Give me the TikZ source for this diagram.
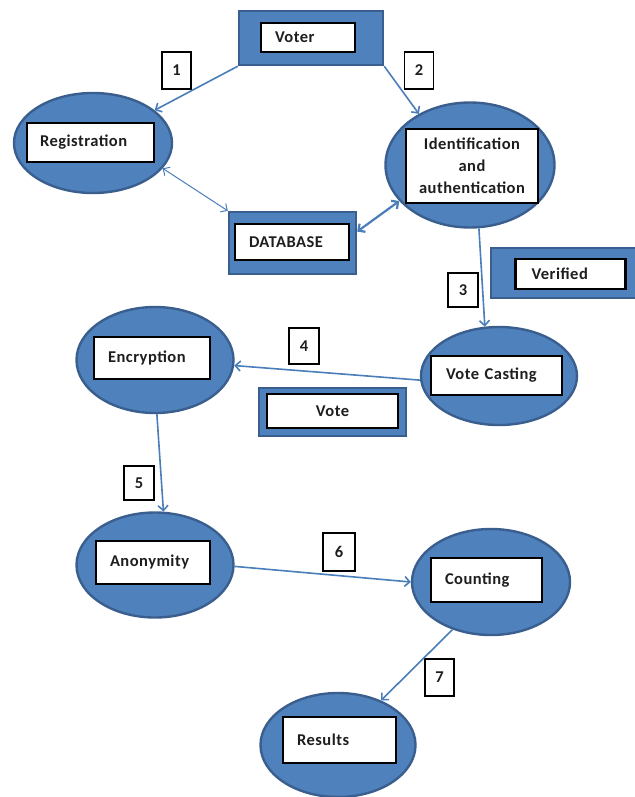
\documentclass[tikz,border=0pt]{standalone}
\usepackage{fontspec}
\setmainfont{Carlito}
\usetikzlibrary{shapes.geometric,arrows.meta}
\definecolor{fillblue}{HTML}{4F81BD}
\definecolor{edgeblue}{HTML}{3A5F8E}
\definecolor{arrowblue}{HTML}{4A7EBB}
\definecolor{inkgray}{HTML}{1E1E1E}
\begin{document}
\begin{tikzpicture}[x=1pt,y=-1pt,
  every node/.style={font=\fontsize{16.5}{22}\selectfont\bfseries\addfontfeatures{LetterSpace=3}, text=inkgray},
  blob/.style={ellipse, draw=edgeblue, fill=fillblue, line width=2.4pt, inner sep=0pt},
  panel/.style={rectangle, draw=edgeblue, fill=fillblue, line width=2.4pt, inner sep=0pt},
  wbox/.style={rectangle, draw=black, fill=white, line width=2.4pt,
               inner xsep=14pt, inner ysep=0pt, align=left},
  numbox/.style={rectangle, draw=black, fill=white, line width=1.8pt,
                 minimum width=29pt, minimum height=37pt, inner sep=0pt},
  flow/.style={draw=arrowblue, line width=1.6pt, -{Straight Barb[length=5pt,width=10pt]}},
  both/.style={{Straight Barb[length=5pt,width=10pt]}-{Straight Barb[length=5pt,width=10pt]}},
]
\useasboundingbox (0,0) rectangle (634,797);

% ---- process ellipses ----
\node[blob, minimum width=158pt, minimum height=100pt] (reg)   at (93,143)  {};
\node[blob, minimum width=169pt, minimum height=125pt] (ident) at (470,165) {};
\node[blob, minimum width=157pt, minimum height=106pt] (enc)   at (155,360) {};
\node[blob, minimum width=156pt, minimum height=98pt]  (vc)    at (499,376) {};
\node[blob, minimum width=157pt, minimum height=105pt] (anon)  at (155,565) {};
\node[blob, minimum width=158pt, minimum height=106pt] (count) at (491,582) {};
\node[blob, minimum width=155pt, minimum height=104pt] (res)   at (338,745) {};

% ---- rectangular panels ----
\node[panel, minimum width=144pt, minimum height=54pt] (voter)    at (311,38)    {};
\node[panel, minimum width=127pt, minimum height=62pt] (db)       at (292.5,243) {};
\node[panel, minimum width=149pt, minimum height=50pt] (verified) at (565.5,273) {};
\node[panel, minimum width=147pt, minimum height=48pt] (vote)     at (332.5,412) {};

% ---- white captions ----
\node[wbox, text width=66pt,  minimum height=29pt] (voterbox) at (308,37.5)   {Voter};
\node[wbox, text width=101pt, minimum height=39pt, inner xsep=13pt] (regbox) at (90.5,142.5) {Registration};
\node[wbox, text width=120pt, minimum height=74pt, inner xsep=6pt, align=center] (identbox) at (472,166)
     {Identification\\and\\authentication};
\node[wbox, text width=86pt,  minimum height=36pt] (dbbox)    at (292,242)    {DATABASE};
\node[wbox, text width=78pt,  minimum height=30pt, inner xsep=16pt] (verbox) at (570.5,274) {Verified};
\node[wbox, text width=88pt,  minimum height=42pt] (encbox)   at (152,358)    {Encryption};
\node[wbox, text width=101pt, minimum height=39pt, inner xsep=15pt] (vcbox) at (496.5,375.5) {Vote Casting};
\node[wbox, text width=95pt,  minimum height=34pt, inner xsep=18pt, align=center] (votebox) at (332.5,411) {Vote};
\node[wbox, text width=86pt,  minimum height=43pt] (anonbox)  at (153,562.5)  {Anonymity};
\node[wbox, text width=83pt,  minimum height=44pt] (countbox) at (486.5,580)  {Counting};
\node[wbox, text width=85pt,  minimum height=46pt] (resbox)   at (339.5,740)  {Results};

% ---- step numbers ----
\node[numbox] (n1) at (176.5,70.5) {1};
\node[numbox] (n2) at (419,70.5)   {2};
\node[numbox, minimum width=30pt, minimum height=34pt] (n3) at (463,290) {3};
\node[numbox, minimum width=30pt, minimum height=36pt] (n4) at (304,346) {4};
\node[numbox, minimum width=30pt, minimum height=34pt] (n5) at (139,483) {5};
\node[numbox, minimum width=32pt, minimum height=38pt] (n6) at (339,552) {6};
\node[numbox] (n7) at (439.5,677.5) {7};

% ---- flow ----
\draw[flow] (voter.south west) -- (reg.28);
\draw[flow] (voter.south east) -- (ident.135);
\draw[flow, both, line width=1pt] (reg.-20) -- (db.north west);
\draw[flow, both, line width=2.2pt] (db.10) -- (ident.207);
\draw[flow] (ident.-82) -- (vc.106);
\draw[flow] (vc.183) -- (enc.-4);
\draw[flow] (enc.-88) -- (anon.81);
\draw[flow] (anon.-1) -- (count.180);
\draw[flow] (count.-129) -- (res.46);
\end{tikzpicture}
\end{document}
